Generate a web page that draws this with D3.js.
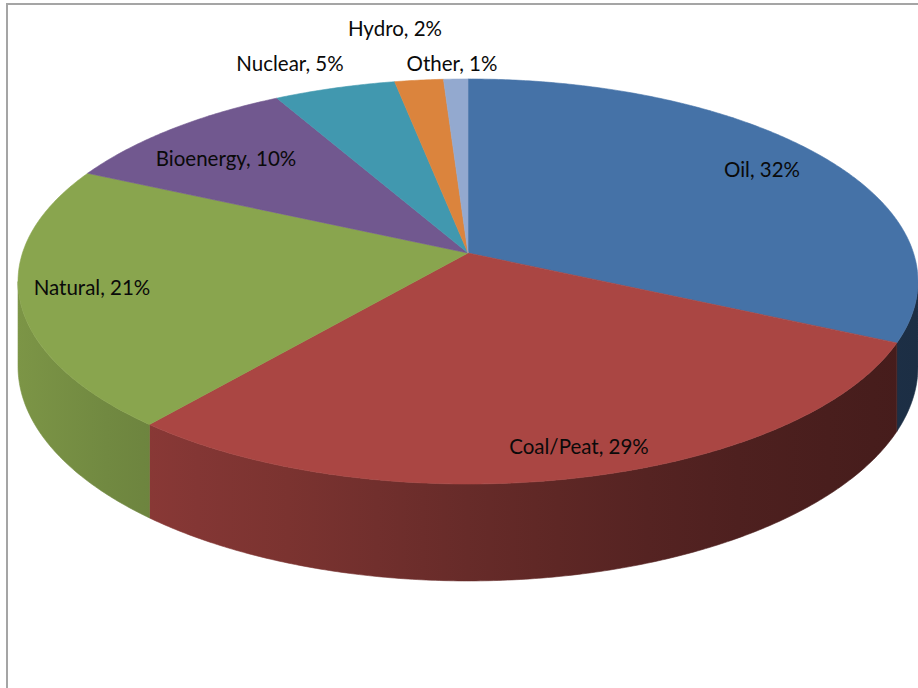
<!DOCTYPE html>
<html>
<head>
<meta charset="utf-8">
<script src="https://cdn.jsdelivr.net/npm/d3@7"></script>
<style>
  html, body { margin: 0; padding: 0; background: #fff; }
  svg { display: block; }
  .lbl { font-family: Lato, "Liberation Sans", sans-serif; font-size: 20.5px; fill: #0a0a0a; }
</style>
</head>
<body>
<div id="chart"></div>
<script>
// data
const categories = ["Oil", "Coal/Peat", "Natural", "Bioenergy", "Nuclear", "Hydro", "Other"];
const shares = [32, 29, 21, 10, 5, 2, 1];
const colors = ["#4572A7", "#AA4643", "#89A54E", "#71588F", "#4198AF", "#DB843D", "#93A9CF"];

// label centres (layout, not data)
const labelPos = {
  "Oil": [762, 177],
  "Coal/Peat": [579, 454],
  "Natural": [92, 295],
  "Bioenergy": [226, 166],
  "Nuclear": [290, 71],
  "Hydro": [395, 36],
  "Other": [452, 71]
};

const W = 918, H = 688;
const cx = 468, cy = 253;      // pie centre on screen
const A = 445.5, B = 198.5;    // radii of the top face
const k = 0.1407;              // perspective strength
const depth = 83.3;            // wall height

const svg = d3.select("#chart").append("svg")
  .attr("width", W).attr("height", H);

// frame
svg.append("rect")
  .attr("x", 7).attr("y", 4).attr("width", 940).attr("height", 720)
  .attr("fill", "none").attr("stroke", "#a5a5a5").attr("stroke-width", 2);

// project a point of the disc: theta clockwise from top, r in 0..1, drop 0 top / 1 bottom
function proj(theta, r, drop) {
  const u = r * Math.sin(theta), v = r * Math.cos(theta);
  const w = 1 / (1 + k * v);
  return [cx + A * u * w, cy - B * v * w + drop * depth * w];
}

function arcPts(a0, a1, drop) {
  const n = Math.max(2, Math.ceil((a1 - a0) / (Math.PI / 360)));
  return d3.range(n + 1).map(i => proj(a0 + (a1 - a0) * i / n, 1, drop));
}

const arcs = d3.pie().sort(null).value(d => d)(shares);

// wall shading: darkening factor across x
const shade = d3.scaleLinear()
  .domain([20, 140, 310, 480, 700, 900])
  .range([0.9, 0.8, 0.71, 0.6, 0.47, 0.41]);

const defs = svg.append("defs");
colors.forEach((c, i) => {
  const g = defs.append("linearGradient")
    .attr("id", "side" + i)
    .attr("gradientUnits", "userSpaceOnUse")
    .attr("x1", 17).attr("x2", 918).attr("y1", 0).attr("y2", 0);
  const base = d3.rgb(c);
  d3.range(0, 11).forEach(j => {
    const x = 17 + (918 - 17) * j / 10;
    const f = shade(x);
    g.append("stop")
      .attr("offset", j / 10)
      .attr("stop-color", d3.rgb(base.r * f, base.g * f, base.b * f).formatHex());
  });
});

// visible part of the outer wall (front, between silhouette points)
const tL = Math.acos(-k), tR = 2 * Math.PI - Math.acos(-k);
const line = d3.line();

const walls = svg.append("g");
arcs.forEach((a, i) => {
  const a0 = Math.max(a.startAngle, tL), a1 = Math.min(a.endAngle, tR);
  if (a1 <= a0) return;
  const top = arcPts(a0, a1, 0);
  const bot = arcPts(a0, a1, 1).reverse();
  walls.append("path")
    .attr("d", line(top.concat(bot)) + "Z")
    .attr("fill", `url(#side${i})`)
    .attr("stroke", `url(#side${i})`)
    .attr("stroke-width", 0.6);
});

// top faces
const tops = svg.append("g");
arcs.forEach((a, i) => {
  const pts = [[cx, cy]].concat(arcPts(a.startAngle, a.endAngle, 0));
  tops.append("path")
    .attr("d", line(pts) + "Z")
    .attr("fill", colors[i])
    .attr("stroke", colors[i])
    .attr("stroke-width", 0.6)
    .attr("stroke-linejoin", "round");
});

// labels
svg.append("g").selectAll("text")
  .data(categories)
  .join("text")
  .attr("class", "lbl")
  .attr("x", d => labelPos[d][0])
  .attr("y", d => labelPos[d][1])
  .attr("text-anchor", "middle")
  .text((d, i) => `${d}, ${shares[i]}%`);
</script>
</body>
</html>
